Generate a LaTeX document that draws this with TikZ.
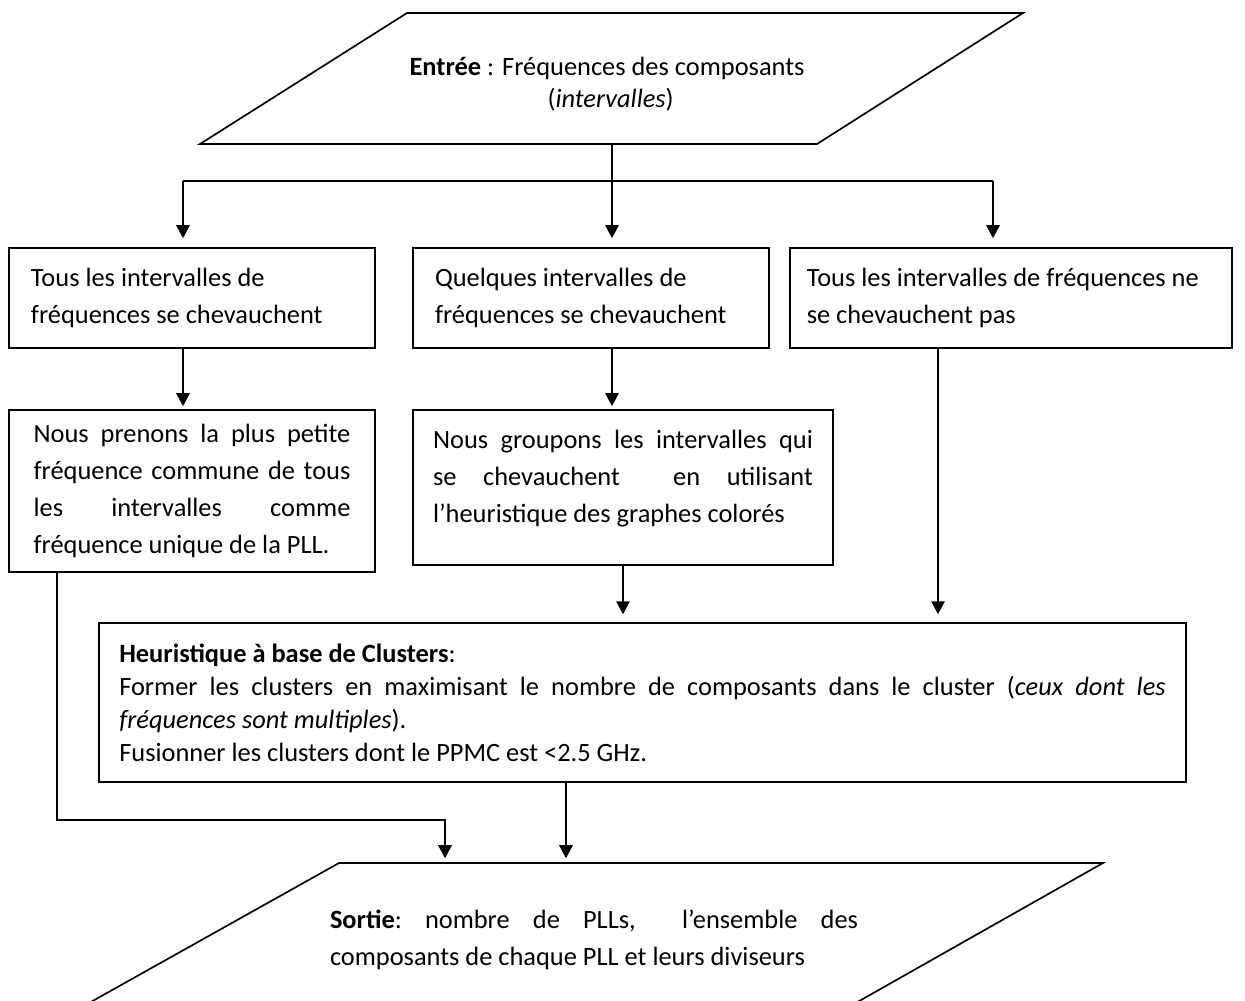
\documentclass[tikz,border=0pt]{standalone}
\usepackage{fontspec}
\setmainfont{Carlito}
\usetikzlibrary{arrows.meta}
\tolerance=10000
\hbadness=10000

\tikzset{
  trait/.style={line width=0.7pt},
  fleche/.style={line width=0.7pt, -{Triangle[length=5.4pt,width=5.6pt]}},
  boite/.style={draw, line width=0.7pt, rectangle, inner xsep=9.17pt, inner ysep=2pt, align=flush left},
  justif/.style={boite, align=justify}
}

\begin{document}
\begin{tikzpicture}[x=0.41667pt, y=-0.41667pt, font=\fontsize{11}{15.44}\selectfont]
\useasboundingbox (0,0) rectangle (1245,1001);
\clip (0,0) rectangle (1245,1001);

%% entree
\draw[trait] (200,144) -- (407,13) -- (1023,13) -- (817,144) -- cycle;
\node[align=left, font=\fontsize{11}{13.4}\selectfont] (entree) at (607,84)
  {\textbf{Entrée} : Fréquences des composants\\ \hspace*{57.5pt}(\textit{intervalles})};
\coordinate (entreeBas) at (612,144);
\coordinate (brancheG) at (183,181);
\coordinate (brancheD) at (993,181);

%% les trois cas
\node[boite, minimum height=41.67pt, text width=134.2pt] (tous) at (192,298)
  {Tous les intervalles de\\ fréquences se chevauchent};
\node[boite, minimum height=41.67pt, text width=130pt] (quelques) at (591,298)
  {Quelques intervalles de\\ fréquences se chevauchent};
\node[boite, minimum height=41.67pt, text width=170.2pt, inner xsep=7pt] (aucun) at (1011,298)
  {Tous les intervalles de fréquences ne\\ se chevauchent pas};

%% traitements
\node[justif, minimum height=67.5pt, text width=132pt, inner xsep=10.25pt] (petite) at (192,491)
  {Nous prenons la plus petite\linebreak fréquence commune de tous\linebreak
   les intervalles comme\linebreak \mbox{fréquence unique de la PLL.}};
\node[justif, minimum height=64.6pt, text width=158.3pt, inner xsep=8.35pt] (groupons) at (623,487.5)
  {Nous groupons les intervalles qui\linebreak se chevauchent\ \ en utilisant\linebreak
   l’heuristique des graphes colorés\par\kern7.5pt};

%% heuristique
\node[justif, minimum height=66.25pt, text width=436pt, inner xsep=8.45pt,
      font=\fontsize{11}{13.8}\selectfont] (heuristique) at (642.5,702.5)
  {\textbf{Heuristique à base de Clusters}:\\
   Former les clusters en maximisant le nombre de composants dans le cluster (\textit{ceux dont les}\linebreak
   \textit{fréquences sont multiples}).\\
   Fusionner les clusters dont le PPMC est <2.5 GHz.};

%% sortie
\draw[trait] (64,1017) -- (339,863) -- (1103,863) -- (831,1017) -- cycle;
\node[align=justify, text width=220pt] (sortie) at (594,940)
  {\textbf{Sortie}:\ nombre de PLLs,\ \ l’ensemble des\linebreak
   composants de chaque PLL et leurs diviseurs};
\coordinate (coude) at (57,820);
\coordinate (coudeD) at (445,820);
\coordinate (sortieHaut) at (566,863);
\coordinate (descente) at (938,600);

%% fleches
\draw[fleche, shorten >=3.75pt] (entreeBas) -- (entreeBas |- quelques.north);
\draw[trait] (brancheG) -- (brancheD);
\draw[fleche, shorten >=3.75pt] (brancheG) -- (brancheG |- tous.north);
\draw[fleche, shorten >=3.75pt] (brancheD) -- (brancheD |- aucun.north);
\draw[fleche, shorten >=1.25pt] (brancheG |- tous.south) -- (brancheG |- petite.north);
\draw[fleche, shorten >=1.25pt] (entreeBas |- quelques.south) -- (entreeBas |- groupons.north);
\draw[fleche, shorten >=3.3pt] (groupons.south) -- (groupons.south |- heuristique.north);
\draw[fleche, shorten >=3.3pt] (descente |- aucun.south) -- (descente |- heuristique.north);
\draw[fleche, shorten >=2pt] (sortieHaut |- heuristique.south) -- (sortieHaut);
\draw[fleche, shorten >=2pt] (coude |- petite.south) -- (coude) -- (coudeD) -- (coudeD |- sortieHaut);
\end{tikzpicture}
\end{document}
